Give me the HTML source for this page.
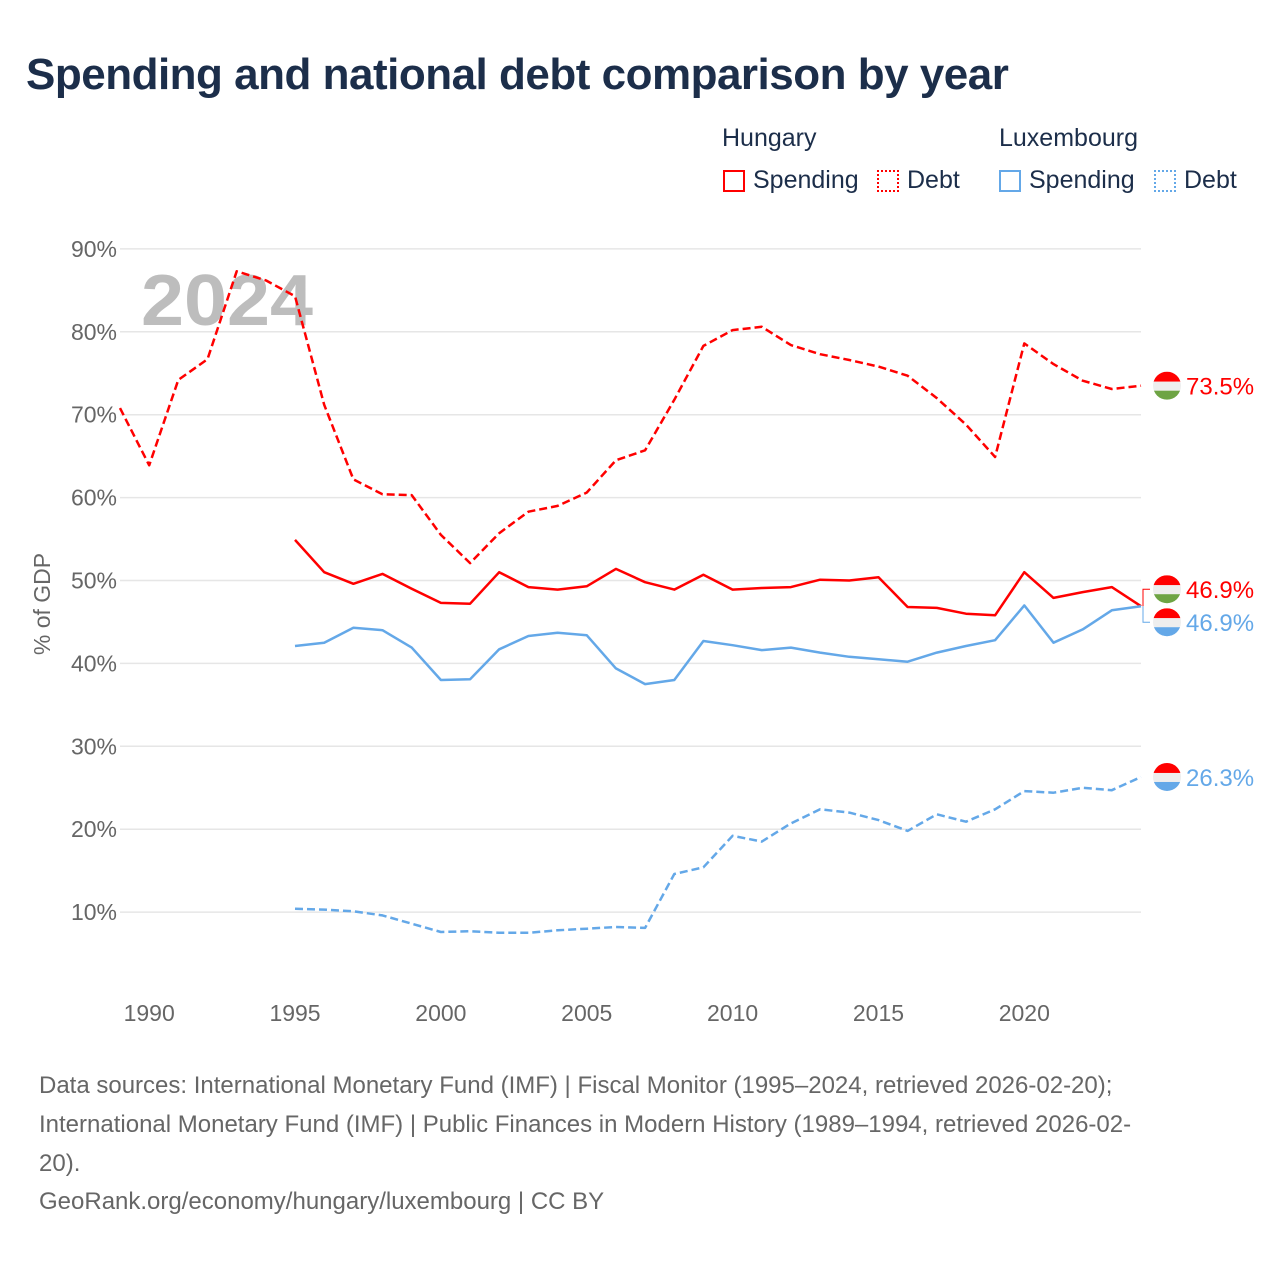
<!DOCTYPE html>
<html><head><meta charset="utf-8"><style>
body{margin:0;background:#fff;font-family:"Liberation Sans",sans-serif;}
#wrap{position:relative;width:1280px;height:1280px;overflow:hidden;}
h1{position:absolute;left:26px;top:50px;margin:0;font-size:44px;font-weight:bold;color:#1c2e4a;letter-spacing:-0.5px;}
.lg{position:absolute;font-size:25px;color:#1c2e4a;}
.sw{position:absolute;width:22px;height:22px;box-sizing:border-box;}
.foot{position:absolute;left:39px;font-size:24px;color:#666;line-height:39px;width:1240px;white-space:nowrap;}
</style></head><body><div id="wrap">
<h1>Spending and national debt comparison by year</h1>
<div class="lg" style="left:722px;top:124px">Hungary</div>
<div class="lg" style="left:999px;top:124px">Luxembourg</div>
<div class="sw" style="left:723px;top:170px;border:2px solid #f00"></div>
<div class="lg" style="left:753px;top:166px">Spending</div>
<div class="sw" style="left:877px;top:170px;border:2px dotted #f00"></div>
<div class="lg" style="left:907px;top:166px">Debt</div>
<div class="sw" style="left:999px;top:170px;border:2px solid #64a8e8"></div>
<div class="lg" style="left:1029px;top:166px">Spending</div>
<div class="sw" style="left:1154px;top:170px;border:2px dotted #64a8e8"></div>
<div class="lg" style="left:1184px;top:166px">Debt</div>
<svg id="chart" width="1280" height="1280" style="position:absolute;left:0;top:0"></svg>
<div class="foot" style="top:1066px">Data sources: International Monetary Fund (IMF) | Fiscal Monitor (1995–2024, retrieved 2026-02-20);<br>International Monetary Fund (IMF) | Public Finances in Modern History (1989–1994, retrieved 2026-02-<br>20).</div>
<div class="foot" style="top:1182px">GeoRank.org/economy/hungary/luxembourg | CC BY</div>
</div>
<script>
const yTicks=[10,20,30,40,50,60,70,80,90];
const xTicks=[1990,1995,2000,2005,2010,2015,2020];
const huDebtYears=[1989,1990,1991,1992,1993,1994,1995,1996,1997,1998,1999,2000,2001,2002,2003,2004,2005,2006,2007,2008,2009,2010,2011,2012,2013,2014,2015,2016,2017,2018,2019,2020,2021,2022,2023,2024];
const huDebt=[70.8,63.9,74.2,76.7,87.3,86.2,84.3,71.2,62.2,60.4,60.3,55.5,52.1,55.7,58.3,59.0,60.6,64.5,65.7,71.8,78.3,80.2,80.6,78.4,77.3,76.6,75.8,74.7,72.0,68.8,64.9,78.6,76.1,74.1,73.1,73.5];
const years95=[1995,1996,1997,1998,1999,2000,2001,2002,2003,2004,2005,2006,2007,2008,2009,2010,2011,2012,2013,2014,2015,2016,2017,2018,2019,2020,2021,2022,2023,2024];
const huSpend=[54.9,51.0,49.6,50.8,49.0,47.3,47.2,51.0,49.2,48.9,49.3,51.4,49.8,48.9,50.7,48.9,49.1,49.2,50.1,50.0,50.4,46.8,46.7,46.0,45.8,51.0,47.9,48.6,49.2,46.9];
const luSpend=[42.1,42.5,44.3,44.0,41.9,38.0,38.1,41.7,43.3,43.7,43.4,39.4,37.5,38.0,42.7,42.2,41.6,41.9,41.3,40.8,40.5,40.2,41.3,42.1,42.8,47.0,42.5,44.1,46.4,46.9];
const luDebt=[10.4,10.3,10.1,9.6,8.6,7.6,7.7,7.5,7.5,7.8,8.0,8.2,8.1,14.6,15.4,19.2,18.5,20.7,22.4,22.0,21.1,19.8,21.8,20.9,22.4,24.6,24.4,25.0,24.7,26.3];

const svg=document.getElementById('chart');const NS='http://www.w3.org/2000/svg';
const x=v=>120+(v-1989)*(1021/35);
const y=v=>995-v*8.29;
function mk(t,a,p){const e=document.createElementNS(NS,t);for(const k in a)e.setAttribute(k,a[k]);(p||svg).appendChild(e);return e;}
yTicks.forEach(t=>{
 const l=mk('line',{x1:120,x2:1141,y1:y(t),y2:y(t),stroke:'#e6e6e6','stroke-width':1.5});
 
 
 const tx=mk('text',{x:117,y:y(t)+8,'text-anchor':'end','font-size':23,fill:'#666'});tx.textContent=t+'%';
 
 
});
xTicks.forEach(t=>{
 const tx=mk('text',{x:x(t),y:1021,'text-anchor':'middle','font-size':23,fill:'#666'});tx.textContent=t;
 
 
});
const yt=mk('text',{x:0,y:0,transform:'translate(50,604) rotate(-90)','text-anchor':'middle','font-size':23,fill:'#666'});yt.textContent='% of GDP';


const yr=mk('text',{x:141,y:325,'font-size':72,'font-weight':'bold',fill:'#bdbdbd',textLength:172,lengthAdjust:'spacingAndGlyphs'});yr.textContent='2024';


function line(xs,vs,col,dash,name){
 const d=vs.map((v,i)=>(i?'L':'M')+x(xs[i]).toFixed(1)+','+y(v).toFixed(1)).join('');
 const p=mk('path',{d:d,fill:'none',stroke:col,'stroke-width':2.5,'stroke-dasharray':dash||'none','stroke-linejoin':'round'});
 
 
}
line(huDebtYears,huDebt,'#ff0000','8,4','line-hungary-debt');
line(years95,huSpend,'#ff0000','','line-hungary-spending');
line(years95,luSpend,'#64a8e8','','line-luxembourg-spending');
line(years95,luDebt,'#64a8e8','8,4','line-luxembourg-debt');
function flag(cy,bottom,val,col,name){
 const g=mk('g',{});
 
 
 const cid='c'+Math.round(cy);
 const cp=mk('clipPath',{id:cid},g);mk('circle',{cx:1167,cy:cy,r:14},cp);
 mk('rect',{x:1153,y:cy-14,width:28,height:10,fill:'#f00','clip-path':'url(#'+cid+')'},g);
 mk('rect',{x:1153,y:cy-4,width:28,height:9,fill:'#eee','clip-path':'url(#'+cid+')'},g);
 mk('rect',{x:1153,y:cy+5,width:28,height:10,fill:bottom,'clip-path':'url(#'+cid+')'},g);
 const t=mk('text',{x:1186,y:cy+9,'font-size':24,fill:col},g);t.textContent=val.toFixed(1)+'%';
}
const ey=y(huSpend[huSpend.length-1]);
flag(y(huDebt[huDebt.length-1]),'#6ea444',huDebt[huDebt.length-1],'#f00','end-label-hu-debt');
flag(ey-17,'#6ea444',huSpend[huSpend.length-1],'#f00','end-label-hu-spending');
flag(ey+16,'#64a8e8',luSpend[luSpend.length-1],'#64a8e8','end-label-lu-spending');
flag(y(luDebt[luDebt.length-1]),'#64a8e8',luDebt[luDebt.length-1],'#64a8e8','end-label-lu-debt');
mk('path',{d:`M1150,${ey-17}H1143V${ey}`,fill:'none',stroke:'#f00','stroke-width':1});
mk('path',{d:`M1150,${ey+16}H1143V${ey}`,fill:'none',stroke:'#64a8e8','stroke-width':1});
</script></body></html>
